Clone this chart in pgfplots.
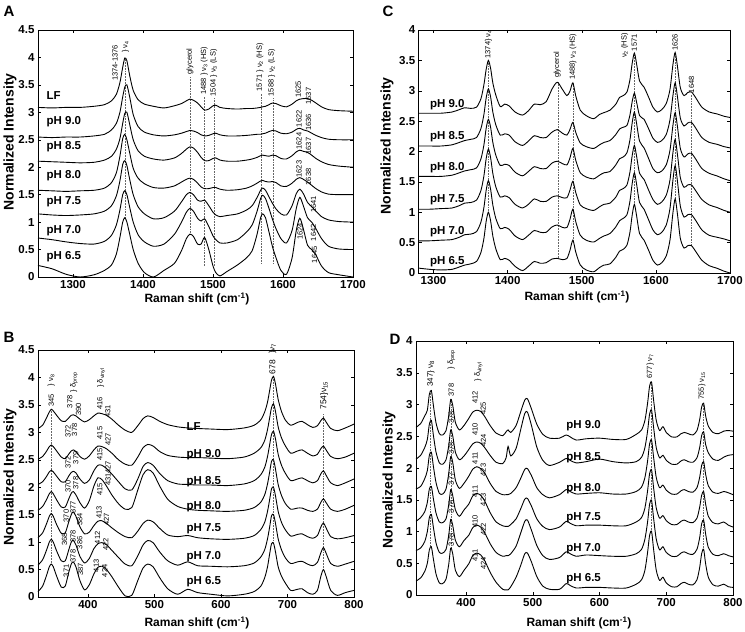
\documentclass[border=0pt]{standalone}
\usepackage{fontspec}
\setmainfont{Liberation Sans}
\usepackage{pgfplots}
\usepackage{pgfplotstable}
\pgfplotsset{compat=1.18}

\pgfplotstableread{
x LF p90 p85 p80 p75 p70 p65
1250 3.09 2.55 2.11 1.58 1.15 0.71 0.21
1270 3.08 2.54 2.10 1.57 1.13 0.68 0.15
1290 3.09 2.55 2.09 1.56 1.12 0.64 0.05
1310 3.09 2.55 2.08 1.57 1.13 0.61 0.00
1330 3.11 2.57 2.09 1.58 1.15 0.60 0.04
1345 3.14 2.60 2.13 1.62 1.20 0.65 0.12
1355 3.21 2.68 2.20 1.72 1.30 0.76 0.22
1362 3.33 2.80 2.33 1.90 1.48 0.95 0.42
1367 3.54 3.00 2.52 2.20 1.75 1.22 0.72
1371 3.82 3.28 2.80 2.52 2.05 1.50 1.00
1374 3.99 3.46 2.98 2.60 2.12 1.57 1.08
1377 3.94 3.50 3.00 2.50 2.03 1.50 1.00
1381 3.67 3.28 2.78 2.26 1.78 1.27 0.78
1386 3.40 2.96 2.50 1.98 1.50 1.00 0.50
1393 3.23 2.74 2.30 1.80 1.28 0.77 0.25
1402 3.15 2.64 2.20 1.70 1.15 0.64 0.08
1415 3.11 2.59 2.15 1.63 1.06 0.56 0.00
1430 3.08 2.57 2.13 1.62 1.08 0.60 0.12
1445 3.12 2.59 2.17 1.66 1.20 0.78 0.25
1455 3.16 2.62 2.25 1.73 1.37 1.00 0.48
1462 3.21 2.65 2.33 1.78 1.50 1.18 0.70
1467 3.24 2.67 2.37 1.80 1.54 1.25 0.78
1472 3.22 2.66 2.35 1.78 1.50 1.20 0.74
1478 3.17 2.63 2.27 1.71 1.40 1.07 0.60
1483 3.10 2.59 2.18 1.64 1.38 1.02 0.60
1488 3.04 2.57 2.12 1.61 1.40 1.06 0.72
1494 3.06 2.58 2.12 1.61 1.30 0.92 0.50
1500 3.12 2.61 2.16 1.63 1.18 0.75 0.20
1504 3.13 2.62 2.17 1.63 1.13 0.68 0.08
1510 3.09 2.59 2.13 1.60 1.10 0.62 0.02
1520 3.07 2.57 2.11 1.58 1.12 0.62 0.10
1535 3.06 2.57 2.11 1.59 1.15 0.68 0.22
1548 3.07 2.58 2.13 1.62 1.22 0.82 0.35
1556 3.07 2.59 2.15 1.66 1.30 0.95 0.48
1563 3.08 2.60 2.18 1.71 1.45 1.20 0.78
1568 3.09 2.60 2.21 1.75 1.58 1.43 1.08
1571 3.10 2.61 2.22 1.76 1.62 1.49 1.15
1575 3.11 2.62 2.21 1.74 1.58 1.43 1.08
1580 3.14 2.65 2.20 1.73 1.46 1.25 0.82
1585 3.17 2.67 2.22 1.74 1.34 1.05 0.55
1590 3.16 2.66 2.21 1.72 1.24 0.88 0.35
1597 3.12 2.62 2.16 1.66 1.15 0.70 0.12
1605 3.10 2.61 2.15 1.65 1.13 0.62 0.05
1613 3.15 2.64 2.21 1.71 1.30 0.85 0.35
1619 3.21 2.69 2.28 1.78 1.52 1.25 0.85
1624 3.24 2.71 2.31 1.81 1.60 1.45 1.07
1629 3.25 2.68 2.29 1.78 1.52 1.30 0.88
1635 3.25 2.66 2.27 1.73 1.36 1.08 0.58
1641 3.22 2.62 2.22 1.67 1.28 1.00 0.50
1647 3.17 2.58 2.16 1.61 1.20 0.88 0.40
1655 3.10 2.54 2.10 1.55 1.10 0.70 0.20
1665 3.05 2.51 2.05 1.51 1.04 0.56 0.08
1680 3.03 2.50 2.02 1.50 1.01 0.51 0.04
1700 3.02 2.50 2.00 1.50 1.00 0.50 0.00
}\tabA

\pgfplotstableread{
x p90 p85 p80 p75 p70 p65
1280 2.63 2.09 1.59 1.05 0.53 0.08
1295 2.63 2.09 1.59 1.05 0.53 0.06
1310 2.63 2.09 1.59 1.06 0.54 0.05
1325 2.65 2.11 1.61 1.07 0.55 0.06
1335 2.69 2.15 1.65 1.11 0.59 0.10
1342 2.72 2.18 1.68 1.15 0.63 0.13
1350 2.71 2.20 1.70 1.16 0.64 0.15
1358 2.73 2.23 1.73 1.20 0.68 0.19
1364 2.87 2.38 1.88 1.36 0.84 0.34
1368 3.10 2.61 2.11 1.60 1.08 0.57
1371 3.35 2.88 2.38 1.88 1.36 0.85
1374 3.50 3.03 2.53 2.04 1.52 1.00
1377 3.37 2.90 2.40 1.90 1.38 0.86
1380 3.13 2.65 2.15 1.64 1.12 0.61
1384 2.93 2.44 1.94 1.42 0.90 0.40
1390 2.74 2.27 1.77 1.25 0.73 0.22
1396 2.78 2.29 1.79 1.27 0.75 0.24
1402 2.75 2.27 1.77 1.24 0.72 0.21
1410 2.65 2.16 1.66 1.13 0.61 0.11
1420 2.60 2.10 1.60 1.07 0.55 0.04
1428 2.67 2.17 1.67 1.13 0.62 0.11
1436 2.78 2.26 1.75 1.22 0.70 0.19
1444 2.77 2.23 1.72 1.18 0.67 0.16
1452 2.82 2.23 1.72 1.18 0.67 0.17
1460 3.03 2.32 1.81 1.25 0.76 0.23
1467 3.14 2.36 1.84 1.27 0.79 0.24
1474 3.02 2.30 1.80 1.24 0.75 0.22
1480 2.92 2.27 1.78 1.24 0.75 0.24
1484 2.99 2.36 1.89 1.36 0.88 0.37
1488 3.13 2.48 2.05 1.51 1.05 0.54
1492 2.91 2.31 1.85 1.32 0.84 0.34
1498 2.68 2.14 1.65 1.12 0.62 0.13
1506 2.59 2.08 1.58 1.06 0.54 0.05
1516 2.54 2.05 1.55 1.03 0.51 0.02
1524 2.61 2.11 1.61 1.09 0.57 0.09
1530 2.64 2.15 1.65 1.13 0.61 0.13
1538 2.68 2.18 1.67 1.15 0.65 0.15
1546 2.78 2.28 1.78 1.25 0.76 0.26
1551 2.89 2.37 1.88 1.36 0.86 0.36
1556 2.92 2.40 1.91 1.39 0.90 0.39
1561 2.98 2.43 1.98 1.45 0.96 0.46
1565 3.18 2.60 2.19 1.66 1.18 0.67
1568 3.45 2.82 2.47 1.93 1.47 0.95
1571 3.62 2.96 2.65 2.10 1.65 1.13
1574 3.44 2.81 2.46 1.92 1.46 0.94
1578 3.16 2.59 2.17 1.64 1.16 0.65
1584 3.06 2.53 2.06 1.54 1.05 0.54
1590 2.90 2.38 1.89 1.37 0.88 0.38
1596 2.73 2.22 1.72 1.21 0.71 0.21
1602 2.65 2.15 1.65 1.13 0.63 0.13
1608 2.69 2.18 1.68 1.17 0.67 0.17
1614 2.79 2.28 1.78 1.28 0.79 0.28
1619 3.02 2.52 2.02 1.53 1.06 0.54
1623 3.43 2.92 2.43 1.98 1.53 0.99
1626 3.63 3.13 2.64 2.20 1.77 1.22
1629 3.41 2.91 2.42 1.96 1.52 0.98
1633 3.05 2.55 2.05 1.57 1.10 0.57
1638 2.92 2.42 1.91 1.41 0.92 0.41
1643 2.97 2.47 1.96 1.45 0.96 0.45
1648 2.98 2.48 1.97 1.45 0.96 0.45
1654 2.88 2.38 1.87 1.35 0.86 0.35
1662 2.73 2.23 1.72 1.21 0.71 0.21
1672 2.65 2.15 1.64 1.12 0.62 0.12
1682 2.62 2.12 1.60 1.08 0.59 0.08
1692 2.58 2.08 1.55 1.03 0.56 0.03
1700 2.56 2.06 1.52 1.00 0.53 0.00
}\tabC

\pgfplotstableread{
x LF p90 p85 p80 p75 p70 p65
325 3.07 2.51 2.05 1.58 1.08 0.58 0.10
332 3.13 2.56 2.10 1.65 1.17 0.68 0.20
338 3.27 2.66 2.20 1.78 1.34 0.86 0.40
342 3.37 2.74 2.28 1.88 1.47 1.00 0.55
345 3.42 2.77 2.31 1.92 1.52 1.05 0.60
348 3.39 2.74 2.28 1.88 1.47 1.00 0.55
353 3.31 2.66 2.20 1.77 1.32 0.84 0.38
360 3.21 2.55 2.10 1.64 1.16 0.66 0.18
366 3.20 2.52 2.10 1.64 1.17 0.66 0.20
371 3.26 2.60 2.20 1.78 1.36 0.85 0.44
375 3.31 2.66 2.27 1.89 1.50 1.00 0.60
378 3.32 2.68 2.29 1.92 1.55 1.03 0.64
382 3.30 2.65 2.26 1.86 1.47 0.95 0.55
388 3.24 2.56 2.15 1.72 1.28 0.74 0.30
395 3.19 2.51 2.07 1.62 1.15 0.62 0.13
402 3.23 2.57 2.13 1.75 1.18 0.70 0.22
409 3.30 2.68 2.30 2.02 1.30 0.88 0.42
415 3.35 2.75 2.40 2.17 1.38 0.97 0.54
421 3.34 2.74 2.40 2.14 1.39 0.99 0.56
428 3.31 2.70 2.34 2.02 1.34 0.95 0.50
436 3.24 2.62 2.24 1.86 1.26 0.85 0.37
446 3.13 2.50 2.10 1.70 1.17 0.72 0.18
456 3.04 2.42 1.97 1.60 1.10 0.60 0.02
466 3.00 2.40 1.95 1.63 1.08 0.57 0.03
475 3.12 2.55 2.15 1.95 1.20 0.75 0.30
483 3.25 2.72 2.38 2.23 1.34 0.95 0.53
490 3.30 2.78 2.45 2.32 1.40 1.03 0.60
498 3.27 2.75 2.40 2.26 1.37 0.99 0.55
508 3.20 2.65 2.25 2.02 1.25 0.82 0.35
520 3.14 2.58 2.12 1.78 1.13 0.66 0.15
535 3.10 2.55 2.06 1.65 1.10 0.58 0.05
550 3.08 2.54 2.05 1.60 1.12 0.64 0.14
565 3.07 2.54 2.04 1.58 1.08 0.57 0.08
585 3.06 2.53 2.04 1.57 1.06 0.56 0.05
610 3.05 2.52 2.03 1.56 1.05 0.55 0.02
635 3.08 2.55 2.06 1.58 1.07 0.57 0.05
650 3.13 2.62 2.12 1.63 1.12 0.62 0.10
660 3.23 2.72 2.23 1.73 1.23 0.73 0.20
666 3.38 2.86 2.37 1.87 1.37 0.87 0.36
670 3.55 3.05 2.56 2.06 1.56 1.06 0.55
673 3.75 3.25 2.76 2.26 1.76 1.26 0.77
676 3.95 3.45 2.96 2.47 1.97 1.48 0.97
679 4.02 3.52 3.02 2.50 2.00 1.50 0.98
682 3.88 3.38 2.88 2.33 1.84 1.34 0.82
686 3.60 3.10 2.60 2.05 1.56 1.06 0.55
691 3.38 2.90 2.40 1.85 1.36 0.86 0.38
697 3.22 2.75 2.25 1.70 1.22 0.71 0.25
705 3.13 2.62 2.12 1.60 1.11 0.61 0.12
715 3.18 2.66 2.15 1.62 1.14 0.64 0.14
722 3.20 2.68 2.17 1.62 1.15 0.65 0.15
730 3.14 2.62 2.12 1.58 1.10 0.60 0.08
738 3.09 2.57 2.08 1.56 1.07 0.57 0.05
745 3.12 2.60 2.12 1.60 1.12 0.63 0.12
750 3.21 2.70 2.24 1.72 1.27 0.80 0.37
754 3.26 2.75 2.30 1.79 1.35 0.90 0.50
758 3.19 2.68 2.22 1.72 1.26 0.80 0.38
765 3.07 2.56 2.08 1.60 1.10 0.61 0.12
775 3.03 2.52 2.03 1.56 1.06 0.56 0.03
787 3.08 2.55 2.08 1.60 1.08 0.60 0.08
800 3.15 2.62 2.15 1.67 1.12 0.65 0.12
}\tabB

\pgfplotstableread{
x p90 p85 p80 p75 p70 p65
325 2.64 2.14 1.67 1.16 0.70 0.22
332 2.70 2.20 1.71 1.22 0.74 0.27
338 2.82 2.32 1.83 1.31 0.84 0.37
342 2.91 2.45 1.96 1.46 1.00 0.50
345 3.16 2.69 2.20 1.67 1.22 0.71
348 3.22 2.75 2.25 1.71 1.27 0.76
351 2.99 2.52 2.03 1.52 1.07 0.57
355 2.71 2.25 1.77 1.29 0.82 0.33
360 2.54 2.08 1.60 1.15 0.67 0.19
365 2.52 2.06 1.59 1.14 0.66 0.18
370 2.59 2.13 1.67 1.20 0.72 0.25
374 2.82 2.35 1.91 1.42 0.94 0.48
377 3.08 2.60 2.18 1.66 1.19 0.74
380 2.99 2.51 2.09 1.57 1.10 0.65
384 2.72 2.25 1.81 1.34 0.86 0.39
390 2.60 2.13 1.68 1.24 0.76 0.29
397 2.67 2.19 1.76 1.34 0.86 0.39
404 2.78 2.29 1.87 1.43 0.94 0.49
410 2.88 2.38 1.98 1.56 1.06 0.62
416 2.91 2.41 2.02 1.60 1.10 0.66
422 2.89 2.39 1.99 1.57 1.07 0.63
428 2.81 2.32 1.92 1.48 0.98 0.54
436 2.67 2.20 1.76 1.30 0.81 0.36
445 2.55 2.09 1.63 1.15 0.67 0.20
455 2.51 2.07 1.58 1.09 0.61 0.09
460 2.57 2.16 1.58 1.08 0.62 0.08
463 2.60 2.34 1.58 1.08 0.62 0.08
467 2.56 2.19 1.60 1.11 0.65 0.13
475 2.67 2.31 1.69 1.20 0.77 0.28
482 2.89 2.61 1.84 1.36 0.98 0.47
488 3.07 2.86 1.98 1.51 1.16 0.65
492 3.09 2.88 1.99 1.52 1.18 0.66
498 2.93 2.67 1.88 1.40 1.02 0.52
506 2.69 2.33 1.69 1.20 0.78 0.29
515 2.53 2.12 1.58 1.08 0.62 0.14
525 2.47 2.04 1.53 1.03 0.56 0.09
540 2.47 2.09 1.58 1.07 0.59 0.09
550 2.52 2.15 1.66 1.16 0.68 0.18
556 2.49 2.12 1.63 1.13 0.65 0.15
565 2.44 2.08 1.59 1.09 0.61 0.11
580 2.46 2.10 1.60 1.10 0.63 0.12
600 2.47 2.14 1.61 1.10 0.62 0.12
620 2.45 2.10 1.59 1.09 0.61 0.11
640 2.45 2.08 1.59 1.09 0.61 0.11
655 2.53 2.10 1.63 1.15 0.65 0.17
663 2.60 2.17 1.70 1.22 0.72 0.24
668 2.75 2.32 1.85 1.37 0.88 0.39
672 3.02 2.58 2.11 1.64 1.15 0.67
675 3.29 2.85 2.38 1.91 1.43 0.94
678 3.35 2.91 2.44 1.97 1.49 1.00
681 3.07 2.64 2.17 1.69 1.21 0.72
685 2.75 2.32 1.85 1.37 0.88 0.39
690 2.59 2.16 1.69 1.21 0.71 0.23
695 2.65 2.20 1.73 1.25 0.76 0.28
700 2.56 2.12 1.65 1.17 0.67 0.19
708 2.49 2.06 1.59 1.11 0.61 0.13
716 2.49 2.06 1.59 1.11 0.61 0.13
722 2.54 2.11 1.64 1.16 0.66 0.18
727 2.56 2.13 1.66 1.18 0.68 0.20
733 2.54 2.10 1.63 1.15 0.65 0.17
740 2.52 2.09 1.62 1.14 0.64 0.16
746 2.59 2.16 1.69 1.21 0.72 0.24
750 2.76 2.32 1.85 1.38 0.90 0.43
753 2.96 2.51 2.04 1.57 1.12 0.65
756 3.02 2.57 2.10 1.63 1.18 0.72
759 2.82 2.37 1.90 1.43 0.96 0.49
763 2.66 2.24 1.72 1.24 0.75 0.28
770 2.56 2.14 1.62 1.14 0.64 0.16
778 2.54 2.12 1.60 1.12 0.62 0.14
786 2.58 2.17 1.63 1.15 0.65 0.17
793 2.59 2.20 1.61 1.10 0.62 0.13
800 2.58 2.21 1.58 1.07 0.60 0.12
}\tabD

\begin{document}
\begin{tikzpicture}[x=1pt,y=1pt]
\useasboundingbox (0,0) rectangle (745,632);
\pgfplotsset{
 spec/.style={
  scale only axis, clip=false,
  axis line style={line width=0.5pt},
  tick align=inside, major tick length=3pt,
  every tick/.style={black, line width=0.4pt},
  tick label style={font=\fontsize{11.5}{12}\selectfont\bfseries},
  /pgf/number format/assume math mode=true,
  /pgf/number format/1000 sep={},
  ymin=0,
 },
 curve/.style={black, line width=0.9pt, smooth, tension=0.45},
 refl/.style={black!60, densely dotted, line width=0.55pt},
}
\tikzset{
 an/.style={rotate=90, anchor=west, inner sep=0.5pt, font=\fontsize{7.5}{7.5}\selectfont},
 anb/.style={rotate=90, anchor=west, inner sep=0.5pt, font=\fontsize{8.5}{8.5}\selectfont},
 ph/.style={anchor=west, inner sep=0pt, font=\fontsize{11.5}{12}\selectfont\bfseries},
 lab/.style={font=\fontsize{12}{13}\selectfont\bfseries},
 ylab/.style={rotate=90, font=\fontsize{14}{14}\selectfont\bfseries},
 let/.style={font=\fontsize{15}{15}\selectfont\bfseries},
}

% ---------------- Panel A ----------------
\begin{axis}[spec, at={(38pt,355pt)}, anchor=south west, width=315pt, height=247pt,
  xmin=1250, xmax=1700, ymax=4.5, xtick={1300,1400,1500,1600,1700},
  ytick={0,0.5,1,1.5,2,2.5,3,3.5,4,4.5}]
\addplot[refl] coordinates {(1374,1.06) (1374,3.99)};
\addplot[refl] coordinates {(1467,0.78) (1467,3.66)};
\addplot[refl] coordinates {(1488,0.2) (1488,3.29)};
\addplot[refl] coordinates {(1502,0.2) (1502,3.27)};
\addplot[refl] coordinates {(1569,0.25) (1569,3.35)};
\addplot[refl] coordinates {(1586,0.25) (1586,3.27)};
\foreach \c in {LF,p90,p85,p80,p75,p70,p65}{
  \addplot[curve] table[x=x,y=\c]{\tabA};
}
\node[an] at (axis cs:1360,3.56) {1374-1376};
\node[an] at (axis cs:1375,4.07) {\} ν\textsubscript{4}};
\node[an] at (axis cs:1467,3.68) {glycerol};
\node[an] at (axis cs:1487.5,3.31) {1488 \} ν\textsubscript{3} (HS)};
\node[an] at (axis cs:1501,3.28) {1504 \} ν\textsubscript{3} (LS)};
\node[an] at (axis cs:1567,3.37) {1571 \} ν\textsubscript{2} (HS)};
\node[an] at (axis cs:1584,3.28) {1588 \} ν\textsubscript{2} (LS)};
\node[an] at (axis cs:1622,3.25) {1625};
\node[an] at (axis cs:1636.5,3.13) {1637};
\node[an] at (axis cs:1623,2.72) {1622};
\node[an] at (axis cs:1636.5,2.65) {1636};
\node[an] at (axis cs:1623,2.31) {1624};
\node[an] at (axis cs:1636.5,2.22) {1637};
\node[an] at (axis cs:1623,1.80) {1623};
\node[an] at (axis cs:1636.5,1.66) {1638};
\node[an] at (axis cs:1643.5,1.16) {1641};
\node[an] at (axis cs:1643.5,0.64) {1642};
\node[an] at (axis cs:1624.5,0.67) {1624};
\node[an] at (axis cs:1645,0.24) {1645};
\node[ph] at (axis cs:1262,3.31) {LF};
\node[ph] at (axis cs:1262,2.83) {pH 9.0};
\node[ph] at (axis cs:1262,2.37) {pH 8.5};
\node[ph] at (axis cs:1262,1.85) {pH 8.0};
\node[ph] at (axis cs:1262,1.37) {pH 7.5};
\node[ph] at (axis cs:1262,0.85) {pH 7.0};
\node[ph] at (axis cs:1262,0.37) {pH 6.5};
\end{axis}

% ---------------- Panel C ----------------
\begin{axis}[spec, at={(418.7pt,359pt)}, anchor=south west, width=311.3pt, height=243pt,
  xmin=1280, xmax=1700, ymax=4, xtick={1300,1400,1500,1600,1700},
  ytick={0,0.5,1,1.5,2,2.5,3,3.5,4}]
\addplot[refl] coordinates {(1374,1.0) (1374,3.5)};
\addplot[refl] coordinates {(1468,0.25) (1468,3.15)};
\addplot[refl] coordinates {(1488,0.54) (1488,3.13)};
\addplot[refl] coordinates {(1571,1.13) (1571,3.62)};
\addplot[refl] coordinates {(1626,1.22) (1626,3.63)};
\addplot[refl] coordinates {(1648,0.45) (1648,2.93)};
\foreach \c in {p90,p85,p80,p75,p70,p65}{
  \addplot[curve] table[x=x,y=\c]{\tabC};
}
\node[an] at (axis cs:1374,3.52) {1374\} ν\textsubscript{4}};
\node[an] at (axis cs:1467,3.2) {glycerol};
\node[an] at (axis cs:1488,3.17) {1488\} ν\textsubscript{3} (HS)};
\node[an] at (axis cs:1558,3.53) {ν\textsubscript{2} (HS)};
\node[an] at (axis cs:1571,3.64) {1571};
\node[an] at (axis cs:1626,3.65) {1626};
\node[an] at (axis cs:1648,2.95) {1648};
\node[ph] at (axis cs:1295,2.77) {pH 9.0};
\node[ph] at (axis cs:1295,2.25) {pH 8.5};
\node[ph] at (axis cs:1295,1.73) {pH 8.0};
\node[ph] at (axis cs:1295,1.21) {pH 7.5};
\node[ph] at (axis cs:1295,0.68) {pH 7.0};
\node[ph] at (axis cs:1295,0.19) {pH 6.5};
\end{axis}

% ---------------- Panel B ----------------
\begin{axis}[spec, at={(38pt,35pt)}, anchor=south west, width=316pt, height=247pt,
  xmin=325, xmax=800, ymax=4.5, xtick={400,500,600,700,800},
  ytick={0,0.5,1,1.5,2,2.5,3,3.5,4,4.5}]
\addplot[refl] coordinates {(345,0.62) (345,3.4)};
\addplot[refl] coordinates {(678,1.0) (678,4.02)};
\addplot[refl] coordinates {(754.5,0.5) (754.5,3.35)};
\foreach \c in {LF,p90,p85,p80,p75,p70,p65}{
  \addplot[curve] table[x=x,y=\c]{\tabB};
}
\node[an] at (axis cs:345,3.45) {345};
\node[an] at (axis cs:345,3.83) {\} ν\textsubscript{8}};
\node[an] at (axis cs:372.7,3.43) {378};
\node[an] at (axis cs:386,3.29) {390};
\node[an] at (axis cs:379,3.72) {\} δ\textsubscript{prop}};
\node[an] at (axis cs:418,3.4) {416};
\node[an] at (axis cs:430,3.25) {431};
\node[an] at (axis cs:420,3.8) {\} δ\textsubscript{vinyl}};
\node[anb] at (axis cs:677.5,4.05) {678};
\node[an, font=\fontsize{8}{8}\selectfont] at (axis cs:677.5,4.42) {\}ν\textsubscript{7}};
\node[anb] at (axis cs:755,3.4) {754\}ν\textsubscript{15}};
\node[an] at (axis cs:370,2.89) {372};
\node[an] at (axis cs:380,2.92) {378};
\node[an] at (axis cs:417.8,2.86) {415};
\node[an] at (axis cs:430.3,2.74) {427};
\node[an] at (axis cs:370,2.32) {372};
\node[an] at (axis cs:381.7,2.41) {379};
\node[an] at (axis cs:417.8,2.47) {415};
\node[an] at (axis cs:430.3,2.23) {427};
\node[an] at (axis cs:370,1.89) {370};
\node[an] at (axis cs:381.7,1.95) {378};
\node[an] at (axis cs:417.8,1.83) {415};
\node[an] at (axis cs:430.3,2.01) {431};
\node[an] at (axis cs:367.6,1.35) {370};
\node[an] at (axis cs:377.7,1.5) {377};
\node[an] at (axis cs:387.7,1.29) {384};
\node[an] at (axis cs:416.8,1.41) {413};
\node[an] at (axis cs:427.8,1.29) {427};
\node[an] at (axis cs:365,0.92) {368};
\node[an] at (axis cs:377.7,0.98) {378};
\node[an] at (axis cs:387.7,0.86) {386};
\node[an] at (axis cs:414.3,0.95) {412};
\node[an] at (axis cs:426.8,0.83) {422};
\node[an] at (axis cs:367.6,0.35) {371};
\node[an] at (axis cs:377.7,0.62) {378};
\node[an] at (axis cs:389,0.38) {387};
\node[an] at (axis cs:412.8,0.44) {413};
\node[an] at (axis cs:425.3,0.35) {424};
\node[ph] at (axis cs:548,3.1) {LF};
\node[ph] at (axis cs:548,2.6) {pH 9.0};
\node[ph] at (axis cs:548,2.1) {pH 8.5};
\node[ph] at (axis cs:548,1.64) {pH 8.0};
\node[ph] at (axis cs:548,1.25) {pH 7.5};
\node[ph] at (axis cs:548,0.74) {pH 7.0};
\node[ph] at (axis cs:548,0.27) {pH 6.5};
\end{axis}

% ---------------- Panel D ----------------
\begin{axis}[spec, at={(416pt,37pt)}, anchor=south west, width=317pt, height=254pt,
  xmin=325, xmax=800, ymax=4, xtick={400,500,600,700,800},
  ytick={0,0.5,1,1.5,2,2.5,3,3.5,4}]
\addplot[refl] coordinates {(347,0.76) (347,3.22)};
\addplot[refl] coordinates {(378,0.73) (378,3.08)};
\addplot[refl] coordinates {(677,1.0) (677,3.36)};
\addplot[refl] coordinates {(755,0.72) (755,3.02)};
\foreach \c in {p90,p85,p80,p75,p70,p65}{
  \addplot[curve] table[x=x,y=\c]{\tabD};
}
\node[an, font=\fontsize{8}{8}\selectfont] at (axis cs:347,3.27) {347\} ν\textsubscript{8}};
\node[an] at (axis cs:378,3.12) {378};
\node[an] at (axis cs:378,3.54) {\} δ\textsubscript{prop}};
\node[an] at (axis cs:418.5,3.35) {\} δ\textsubscript{vinyl}};
\node[an] at (axis cs:413.5,3.0) {412};
\node[an] at (axis cs:426,2.83) {425};
\node[an] at (axis cs:413.5,2.5) {410};
\node[an] at (axis cs:426,2.33) {424};
\node[an] at (axis cs:413.5,2.05) {411};
\node[an] at (axis cs:426,1.86) {423};
\node[an] at (axis cs:413.5,1.52) {411};
\node[an] at (axis cs:426,1.39) {423};
\node[an] at (axis cs:413.5,1.05) {410};
\node[an] at (axis cs:426,0.92) {422};
\node[an] at (axis cs:413.5,0.52) {411};
\node[an] at (axis cs:426,0.39) {424};
\node[an] at (axis cs:378,2.69) {378};
\node[an] at (axis cs:378,2.2) {378};
\node[an] at (axis cs:378,1.72) {377};
\node[an] at (axis cs:378,1.28) {378};
\node[an] at (axis cs:378,0.76) {378};
\node[an, font=\fontsize{7.5}{7.5}\selectfont] at (axis cs:676,3.4) {677\} ν\textsubscript{7}};
\node[an, font=\fontsize{7.5}{7.5}\selectfont] at (axis cs:753.5,3.07) {755\} ν\textsubscript{15}};
\node[ph] at (axis cs:550,2.67) {pH 9.0};
\node[ph] at (axis cs:550,2.17) {pH 8.5};
\node[ph] at (axis cs:550,1.68) {pH 8.0};
\node[ph] at (axis cs:550,1.21) {pH 7.5};
\node[ph] at (axis cs:550,0.73) {pH 7.0};
\node[ph] at (axis cs:550,0.26) {pH 6.5};
\end{axis}

% ---------------- labels ----------------
\node[let] at (9,621) {A};
\node[let] at (388,621) {C};
\node[let] at (9,295) {B};
\node[let] at (395,293) {D};
\node[ylab] at (10,490) {Normalized Intensity};
\node[ylab] at (387,486) {Normalized Intensity};
\node[ylab] at (10,155) {Normalized Intensity};
\node[ylab] at (389,152) {Normalized Intensity};
\node[lab] at (197,333) {Raman shift (cm\textsuperscript{-1})};
\node[lab] at (577,335) {Raman shift (cm\textsuperscript{-1})};
\node[lab] at (197,9) {Raman shift (cm\textsuperscript{-1})};
\node[lab] at (579,9) {Raman shift (cm\textsuperscript{-1})};
\end{tikzpicture}
\end{document}
